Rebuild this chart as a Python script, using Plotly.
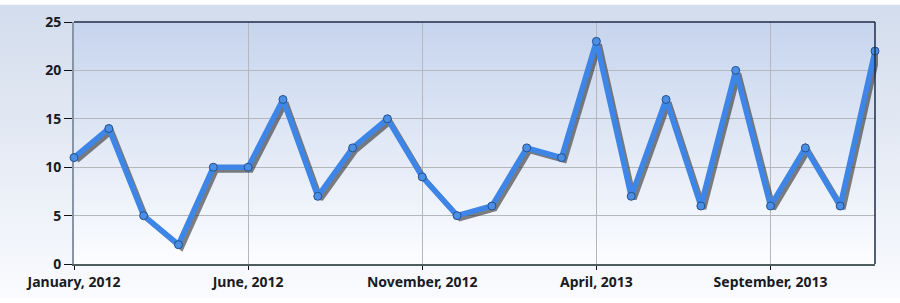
import base64
import plotly.graph_objects as go

months = ["Jan 2012", "Feb 2012", "Mar 2012", "Apr 2012", "May 2012", "Jun 2012",
          "Jul 2012", "Aug 2012", "Sep 2012", "Oct 2012", "Nov 2012", "Dec 2012",
          "Jan 2013", "Feb 2013", "Mar 2013", "Apr 2013", "May 2013", "Jun 2013",
          "Jul 2013", "Aug 2013", "Sep 2013", "Oct 2013", "Nov 2013", "Dec 2013"]
values = [11, 14, 5, 2, 10, 10, 17, 7, 12, 15, 9, 5,
          6, 12, 11, 23, 7, 17, 6, 20, 6, 12, 6, 22]
tick_months = ["Jan 2012", "Jun 2012", "Nov 2012", "Apr 2013", "Sep 2013"]
tick_text = ["January, 2012", "June, 2012", "November, 2012", "April, 2013", "September, 2013"]
y_ticks = [0, 5, 10, 15, 20, 25]


def grad_uri(top, bottom):
    svg = ('<svg xmlns="http://www.w3.org/2000/svg" width="100" height="100" '
           'viewBox="0 0 100 100" preserveAspectRatio="none">'
           '<defs><linearGradient id="g" x1="0" y1="0" x2="0" y2="1">'
           f'<stop offset="0" stop-color="{top}"/><stop offset="1" stop-color="{bottom}"/>'
           '</linearGradient></defs><rect width="100" height="100" fill="url(#g)"/></svg>')
    return "data:image/svg+xml;base64," + base64.b64encode(svg.encode()).decode()


W, H = 900, 303
L, R, T, B = 74, 22, 18, 32
PW, PH = W - L - R, H - T - B
SH = 3  # shadow offset in px

font = dict(family="Noto Sans, DejaVu Sans, sans-serif", size=14, color="#1a1a24", weight="bold")

fig = go.Figure()

# invisible trace that carries the visible axes
fig.add_trace(go.Scatter(x=months, y=values, xaxis="x", yaxis="y", mode="lines",
                         line=dict(color="rgba(0,0,0,0)", width=0),
                         hoverinfo="skip", showlegend=False))
# shadow line (shifted subplot)
fig.add_trace(go.Scatter(x=months, y=values, xaxis="x2", yaxis="y2", mode="lines",
                         line=dict(color="rgba(45,45,45,0.6)", width=5),
                         hoverinfo="skip", cliponaxis=False, showlegend=False))
# main line
fig.add_trace(go.Scatter(x=months, y=values, xaxis="x3", yaxis="y3", mode="lines+markers",
                         line=dict(color="#3d86e8", width=5.5),
                         marker=dict(size=8, color="#4a8ee6", line=dict(color="#24508c", width=1)),
                         cliponaxis=False, showlegend=False))

xdom_main = [0, (PW - SH) / PW]
ydom_main = [SH / PH, 1]
xdom_sh = [SH / PW, 1]
ydom_sh = [0, (PH - SH) / PH]

hidden = dict(visible=False, showgrid=False, zeroline=False)

fig.update_layout(
    width=W, height=H,
    margin=dict(l=L, r=R, t=T, b=B),
    paper_bgcolor="white",
    plot_bgcolor="rgba(0,0,0,0)",
    font=font,
    xaxis=dict(domain=xdom_main, anchor="y", type="category", categoryorder="array",
               categoryarray=months, range=[0, len(months) - 1],
               tickmode="array", tickvals=tick_months, ticktext=tick_text,
               showgrid=True, gridcolor="#b4b8bc", gridwidth=1,
               showline=True, linecolor="#4f5d5f", linewidth=1.5,
               ticks="outside", ticklen=4, tickcolor="#111", tickwidth=1,
               tickfont=font, zeroline=False),
    yaxis=dict(domain=ydom_main, anchor="x", range=[0, 25],
               tickmode="array", tickvals=y_ticks,
               showgrid=True, gridcolor="#b4b8bc", gridwidth=1,
               showline=True, linecolor="#8795a6", linewidth=2,
               ticks="outside", ticklen=8, tickcolor="#111", tickwidth=1,
               tickfont=font, zeroline=False),
    xaxis2=dict(domain=xdom_sh, anchor="y2", type="category", categoryorder="array",
                categoryarray=months, range=[0, len(months) - 1], **hidden),
    yaxis2=dict(domain=ydom_sh, anchor="x2", range=[0, 25], **hidden),
    xaxis3=dict(domain=xdom_main, anchor="y3", type="category", categoryorder="array",
                categoryarray=months, range=[0, len(months) - 1], **hidden),
    yaxis3=dict(domain=ydom_main, anchor="x3", range=[0, 25], **hidden),
    images=[
        dict(source=grad_uri("#d2dcec", "#fafbfe"), xref="paper", yref="paper",
             x=-L / PW, y=1 + T / PH, sizex=W / PW, sizey=H / PH,
             xanchor="left", yanchor="top", sizing="stretch", layer="below"),
        dict(source=grad_uri("#c6d4ed", "#fcfdff"), xref="x domain", yref="y domain",
             x=0, y=1, sizex=1, sizey=1,
             xanchor="left", yanchor="top", sizing="stretch", layer="below"),
    ],
    shapes=[
        dict(type="line", xref="x domain", yref="y domain", x0=0, x1=1, y0=1, y1=1,
             line=dict(color="#1c2c4a", width=1.5)),
        dict(type="line", xref="x domain", yref="y domain", x0=1, x1=1, y0=0, y1=1,
             line=dict(color="#1c2c4a", width=1.5)),
    ],
)

fig.write_html("out.html")
